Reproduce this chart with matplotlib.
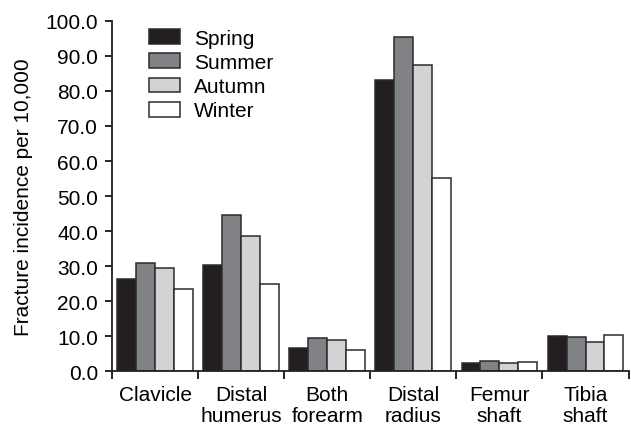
import matplotlib
matplotlib.use("Agg")
import matplotlib.pyplot as plt
import numpy as np
from matplotlib.patches import Patch

plt.rcParams['font.family'] = ['Liberation Sans', 'DejaVu Sans']

categories = ["Clavicle", "Distal\nhumerus", "Both\nforearm", "Distal\nradius", "Femur\nshaft", "Tibia\nshaft"]
seasons = ["Spring", "Summer", "Autumn", "Winter"]
spring = [26.3, 30.3, 6.7, 83.0, 2.4, 10.2]
summer = [31.0, 44.6, 9.4, 95.4, 2.9, 9.7]
autumn = [29.5, 38.7, 8.9, 87.4, 2.5, 8.4]
winter = [23.6, 25.0, 6.2, 55.1, 2.8, 10.3]
series = [spring, summer, autumn, winter]
colors = ["#231f20", "#808285", "#d1d3d4", "#ffffff"]
yticks = np.arange(0, 101, 10)

FS = 15
fig = plt.figure(figsize=(6.31, 4.27), dpi=100)
ax = fig.add_axes([0.1775, 0.128, 0.82, 0.821])

x = np.arange(len(categories))
w = 0.22
for i, (vals, c) in enumerate(zip(series, colors)):
    ax.bar(x + (i - 1.5) * w, vals, width=w, color=c, edgecolor="#2b2b2b",
           linewidth=1.1, label=seasons[i], zorder=2)

ax.set_xlim(-0.5, len(categories) - 0.5 + 0.01)
ax.set_ylim(0, 100)
ax.set_yticks(yticks)
ax.set_yticklabels([f"{v:.1f}" for v in yticks], fontsize=FS)
ax.set_xticks(np.arange(len(categories) + 1) - 0.5)
ax.set_xticklabels([])
ax.set_xticks(x, minor=True)
ax.set_xticklabels(categories, minor=True, fontsize=FS, linespacing=1.15)
ax.tick_params(axis="x", which="minor", length=0, pad=10)
ax.tick_params(axis="x", which="major", direction="out", length=6, width=1.2)
ax.tick_params(axis="y", direction="out", length=5, width=1.2, pad=5)
for s in ["top", "right"]:
    ax.spines[s].set_visible(False)
for s in ["left", "bottom"]:
    ax.spines[s].set_linewidth(1.3)
    ax.spines[s].set_color("#222222")
ax.set_ylabel("Fracture incidence per 10,000", fontsize=FS, labelpad=9)

handles = [Patch(facecolor=c, edgecolor="#2b2b2b", linewidth=1.1) for c in colors]
ax.legend(handles, seasons, loc="upper left", bbox_to_anchor=(0.0716, 0.977), frameon=False,
          fontsize=FS, handlelength=1.5, handleheight=0.72, handletextpad=0.65,
          labelspacing=0.25, borderaxespad=0, borderpad=0)

fig.savefig("out.png", dpi=100)
